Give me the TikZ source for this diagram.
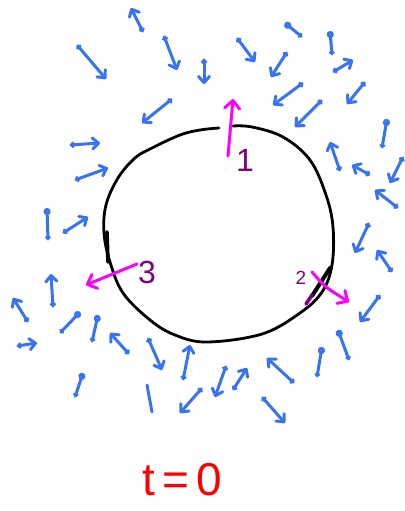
\documentclass[tikz,border=0pt]{standalone}
\usepackage{fontspec}
\setmainfont{Liberation Sans}
\usetikzlibrary{arrows.meta}
\definecolor{vblue}{RGB}{55,115,242}
\definecolor{mag}{RGB}{255,0,255}
\definecolor{purp}{RGB}{128,0,128}
\definecolor{tred}{RGB}{255,0,0}
\tikzset{
  vecarrow/.style={draw=vblue, line width=3pt, line cap=round,
    {Circle[length=5.5pt]}-{Straight Barb[length=6pt,width=11pt,round]}},
  ninearrow/.style={draw=vblue, line width=3pt, line cap=round,
    {Circle[open,length=7pt,width=7pt]}-{Circle[length=5pt]}},
  plainvec/.style={draw=vblue, line width=3pt, line cap=round},
  ring/.style={draw=black, line width=2.8pt, line cap=round},
  marrow/.style={draw=mag, line width=3pt, line cap=round,
    -{Straight Barb[length=8pt,width=15pt,round]}},
  numlab/.style={text=purp, font=\fontsize{32}{32}\selectfont, inner sep=0pt},
}
\begin{document}
\begin{tikzpicture}[x=1pt,y=-1pt]
\useasboundingbox (0,0) rectangle (404,511);
% circle (open at top)
\draw[ring] plot[smooth, tension=0.6] coordinates {(233,126) (252,127) (283,137) (310,160) (326,195) (333,227) (332,265) (322,292) (300,313) (262,334) (207,342) (175,335) (150,320) (123,293) (110,262) (104,233) (106,205) (118,178) (135,158) (152,148) (180,135) (200,130) (219,128)};
\draw[ring, line width=3.6pt] (107,232) -- (108,262);
\draw[ring, line width=4pt] (312,296) -- (330,268);
\draw[draw=purp, line width=3.6pt, line cap=round] (306,304) -- (312,295);
% blue vectors with heads
\foreach \xa/\ya/\xb/\yb in {
  77/45/106/79, 143/32/131/8, 164/36/177/70, 204/59/204/84, 237/38/255/62,
  287/52/271/77, 333/72/353/60, 365/82/347/104, 172/99/142/123, 303/83/273/105,
  322/100/295/127, 340/171/330/142, 370/175/352/165, 403/157/390/183,
  398/208/375/190, 369/223/355/253, 392/272/377/250, 380/295/360/322,
  294/383/267/358, 262/397/285/423, 53/307/51/274, 28/322/13/298, 17/346/37/343,
  129/354/110/333, 148/338/162/370, 183/380/190/345, 202/388/180/413,
  226/366/215/397, 233/390/247/368, 70/145/100/143, 75/180/108/168, 63/233/88/217}
  \draw[vecarrow] (\xa,\ya) -- (\xb,\yb);
% blue "9"-shaped vectors (loop end first)
\foreach \xa/\ya/\xb/\yb in {
  330/31/332/55, 387/119/382/148, 338/330/349/360, 322/347/317/377,
  80/312/60/333, 98/315/92/342, 83/373/75/397, 47/208/48/240, 285/23/302/37}
  \draw[ninearrow] (\xa,\ya) -- (\xb,\yb);
\draw[plainvec] (147,385) -- (152,412);
% magenta vectors
\draw[marrow] (228,156) -- (233,99);
\draw[marrow] (137,264) -- (86,285);
\draw[marrow] (312,272) .. controls (325,287) .. (349,302);
% labels
\node[numlab] (l1) at (245,160) {1};
\node[numlab] (l3) at (147,272) {3};
\node[numlab, font=\fontsize{19}{19}\selectfont] (l2) at (301,278) {2};
\node[text=tred, font=\fontsize{46}{46}\selectfont, inner sep=0pt] (t0) at (182,480) {t\hspace{7pt}=\hspace{7pt}0};
\end{tikzpicture}
\end{document}
